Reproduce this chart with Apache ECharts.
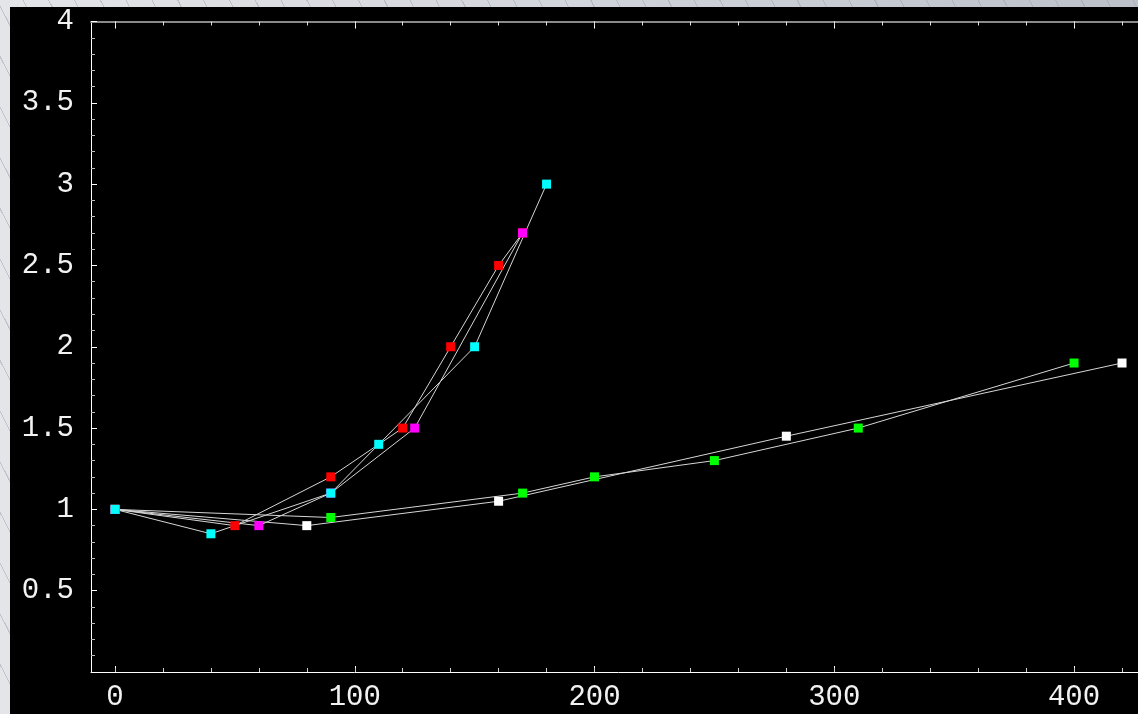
<!DOCTYPE html>
<html>
<head>
<meta charset="utf-8">
<script src="https://cdn.jsdelivr.net/npm/echarts@6/dist/echarts.min.js"></script>
<style>
  html, body { margin: 0; padding: 0; }
  body {
    width: 1138px; height: 714px; overflow: hidden; position: relative;
    background:
      repeating-linear-gradient(63deg, rgba(150,155,165,0) 0px, rgba(150,155,165,0) 22px, rgba(150,155,165,0.45) 22px, rgba(150,155,165,0.45) 23px),
      linear-gradient(to right, #e4e5e8 0%, #d2d5db 50%, #bcc1ca 100%);
  }
  #chart { position: absolute; left: 10px; top: 7px; width: 1150px; height: 707px; background: #000; }
</style>
</head>
<body>
<div id="chart"></div>
<script>
// ---- data ----
const cyanX = [0, 40, 90, 110, 150, 180];
const cyanY = [1, 0.85, 1.1, 1.4, 2.0, 3.0];
const redX = [0, 50, 90, 120, 140, 160, 170];
const redY = [1, 0.9, 1.2, 1.5, 2.0, 2.5, 2.7];
const magentaX = [0, 60, 90, 125, 170];
const magentaY = [1, 0.9, 1.1, 1.5, 2.7];
const greenX = [0, 90, 170, 200, 250, 310, 400];
const greenY = [1, 0.95, 1.1, 1.2, 1.3, 1.5, 1.9];
const whiteX = [0, 80, 160, 280, 420];
const whiteY = [1, 0.9, 1.05, 1.45, 1.9];
const xMajorTicks = [0, 100, 200, 300, 400];
const xMinorTicks = [0, 20, 40, 60, 80, 100, 120, 140, 160, 180, 200, 220, 240, 260, 280, 300, 320, 340, 360, 380, 400, 420];

function pairs(xs, ys) { return xs.map((x, i) => [x, ys[i]]); }

const seriesDefs = [
  { name: 'white', x: whiteX, y: whiteY, color: '#ffffff' },
  { name: 'green', x: greenX, y: greenY, color: '#00ff00' },
  { name: 'red', x: redX, y: redY, color: '#ff0000' },
  { name: 'magenta', x: magentaX, y: magentaY, color: '#ff00ff' },
  { name: 'cyan', x: cyanX, y: cyanY, color: '#00ffff' }
];

const labelFont = { color: '#f2f2f2', fontFamily: 'Liberation Mono', fontSize: 29 };
const xMin = -10, xMax = 430;

const series = [];
seriesDefs.forEach(s => {
  series.push({
    type: 'line', name: s.name + '-line', data: pairs(s.x, s.y),
    symbol: 'none', z: 2,
    lineStyle: { color: '#d6d6d6', width: 1 }
  });
});
seriesDefs.forEach(s => {
  series.push({
    type: 'scatter', name: s.name, data: pairs(s.x, s.y),
    symbol: 'rect', symbolSize: 9, z: 5,
    itemStyle: { color: s.color, opacity: 1 },
    emphasis: { disabled: true }
  });
});

const chart = echarts.init(document.getElementById('chart'));
chart.setOption({
  backgroundColor: '#000000',
  animation: false,
  grid: { left: 81, top: 13, width: 1055, height: 652 },
  xAxis: [
    {
      type: 'value', min: xMin, max: xMax, position: 'bottom',
      axisLine: { show: true, onZero: false, lineStyle: { color: '#ffffff', width: 1 } },
      axisTick: { show: true, inside: true, length: 6, customValues: xMajorTicks, lineStyle: { color: '#ffffff' } },
      axisLabel: Object.assign({ show: true, customValues: xMajorTicks, margin: 11 }, labelFont),
      splitLine: { show: false }
    },
    {
      type: 'value', min: xMin, max: xMax, position: 'bottom',
      axisLine: { show: false, onZero: false },
      axisTick: { show: true, inside: true, length: 4, customValues: xMinorTicks, lineStyle: { color: '#cccccc' } },
      axisLabel: { show: false },
      splitLine: { show: false }
    },
    {
      type: 'value', min: xMin, max: xMax, position: 'top',
      axisLine: { show: true, onZero: false, lineStyle: { color: '#8a8a8a', width: 2 } },
      axisTick: { show: true, inside: true, length: 7, customValues: xMajorTicks, lineStyle: { color: '#ffffff' } },
      axisLabel: { show: false },
      splitLine: { show: false }
    },
    {
      type: 'value', min: xMin, max: xMax, position: 'top',
      axisLine: { show: false, onZero: false },
      axisTick: { show: true, inside: true, length: 4, customValues: xMinorTicks, lineStyle: { color: '#dddddd' } },
      axisLabel: { show: false },
      splitLine: { show: false }
    }
  ],
  yAxis: {
    type: 'value', min: 0, max: 4, interval: 0.5, position: 'left',
    axisLine: { show: true, onZero: false, lineStyle: { color: '#ffffff', width: 1 } },
    axisTick: { show: true, inside: true, length: 6, lineStyle: { color: '#ffffff' } },
    minorTick: { show: true, splitNumber: 5, length: 4, lineStyle: { color: '#bbbbbb' } },
    axisLabel: Object.assign({ margin: 17, formatter: v => (v === 0 ? '' : String(v)) }, labelFont),
    splitLine: { show: false }
  },
  series: series
});
</script>
</body>
</html>
